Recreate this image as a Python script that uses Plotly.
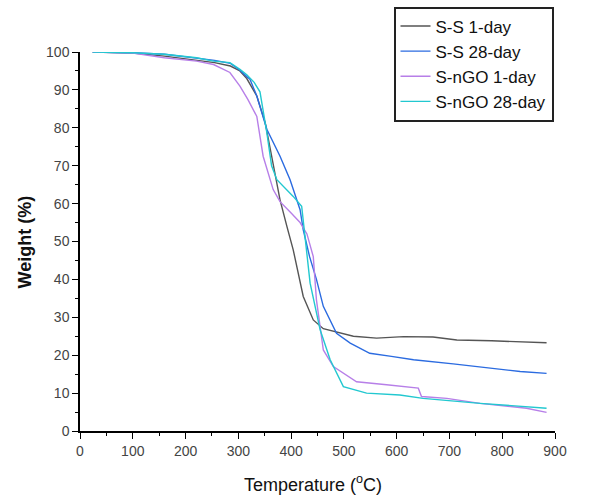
import plotly.graph_objects as go

# S-S 1-day
ss1_x = [24, 100, 160, 220, 255, 285, 303, 316, 335, 351, 366, 379, 392, 404, 423, 442, 461, 490, 518, 562, 613, 669, 714, 780, 846, 884]
ss1_y = [100, 99.7, 98.9, 97.9, 97.2, 96.3, 95, 93, 88.4, 81.3, 70.8, 61, 54, 47.8, 35.5, 29.3, 27, 26, 25, 24.5, 24.9, 24.8, 24, 23.8, 23.6, 23.3]
# S-S 28-day
ss28_x = [24, 100, 160, 220, 255, 285, 303, 316, 322, 335, 354, 379, 398, 417, 423, 435, 448, 461, 486, 512, 549, 590, 632, 707, 783, 834, 884]
ss28_y = [100, 99.8, 99.4, 98.5, 97.8, 97, 95.2, 93.5, 92.8, 88.4, 79.6, 72.5, 66.3, 58.4, 53.1, 46, 40, 32.9, 25.8, 23.2, 20.5, 19.7, 18.8, 17.7, 16.6, 15.7, 15.2]
# S-nGO 1-day
sn1_x = [24, 100, 160, 221, 253, 284, 303, 318, 335, 347, 366, 379, 400, 417, 430, 442, 448, 461, 480, 524, 581, 641, 647, 695, 758, 846, 884]
sn1_y = [100, 99.7, 98.5, 97.6, 96.7, 94.6, 91, 87.5, 83, 72.5, 63.7, 60.5, 57.5, 55, 52, 46, 34.6, 21.4, 17, 13, 12.2, 11.3, 9.1, 8.6, 7.3, 6, 4.9]
# S-nGO 28-day
sn28_x = [24, 100, 160, 221, 253, 284, 303, 316, 330, 341, 354, 363, 373, 404, 420, 426, 436, 455, 474, 499, 543, 606, 650, 758, 884]
sn28_y = [100, 99.8, 99.4, 98.5, 97.6, 97.2, 95.4, 94, 92, 89.5, 78.7, 70, 66.3, 61.9, 59.3, 52.3, 39, 26.7, 18.8, 11.7, 10, 9.5, 8.6, 7.3, 6]

series = [
    ("S-S 1-day", ss1_x, ss1_y, "#555555"),
    ("S-S 28-day", ss28_x, ss28_y, "#2b6be0"),
    ("S-nGO 1-day", sn1_x, sn1_y, "#b77fe8"),
    ("S-nGO 28-day", sn28_x, sn28_y, "#22c8d0"),
]

x_ticks = list(range(0, 901, 100))
y_ticks = list(range(0, 101, 10))

fig = go.Figure()
for name, xs, ys, col in series:
    fig.add_trace(go.Scatter(x=xs, y=ys, mode="lines", name=name,
                             line=dict(color=col, width=1.4)))

font_family = "Arial, Liberation Sans, sans-serif"
fig.update_layout(
    width=592, height=496,
    margin=dict(l=80, r=37, t=52, b=65, autoexpand=False),
    paper_bgcolor="white", plot_bgcolor="white",
    font=dict(family=font_family, color="#222222"),
    showlegend=True,
    legend=dict(x=0.66, y=1.12, xanchor="left", yanchor="top",
                bordercolor="#222222", borderwidth=2, bgcolor="white",
                font=dict(size=17, color="#111111"), tracegroupgap=0,
                itemwidth=30),
    xaxis=dict(range=[0, 900], tickvals=x_ticks, ticks="outside", ticklen=6,
               tickwidth=1.3, tickcolor="black", showline=True, linecolor="black",
               linewidth=1.5, showgrid=False, zeroline=False, automargin=False,
               tickfont=dict(size=14, color="#444444"),
               minor=dict(dtick=50, ticks="outside", ticklen=3, tickcolor="black", tickwidth=1.2)),
    yaxis=dict(range=[0, 100], tickvals=y_ticks, ticks="outside", ticklen=6,
               tickwidth=1.3, tickcolor="black", showline=True, linecolor="black",
               linewidth=1.5, showgrid=False, zeroline=False, automargin=False,
               tickfont=dict(size=14, color="#444444"),
               minor=dict(dtick=5, ticks="outside", ticklen=3, tickcolor="black", tickwidth=1.2)),
    annotations=[
        dict(text="Temperature (<sup>o</sup>C)", xref="paper", yref="paper",
             x=0.49, y=0.0, yshift=-52, xanchor="center", yanchor="middle", showarrow=False,
             font=dict(size=18, color="#111111")),
        dict(text="<b>Weight (%)</b>", xref="paper", yref="paper",
             x=-0.116, y=0.5, xanchor="center", yanchor="middle", showarrow=False,
             textangle=-90, font=dict(size=18, color="#111111")),
    ],
)

fig.write_html("out.html")
